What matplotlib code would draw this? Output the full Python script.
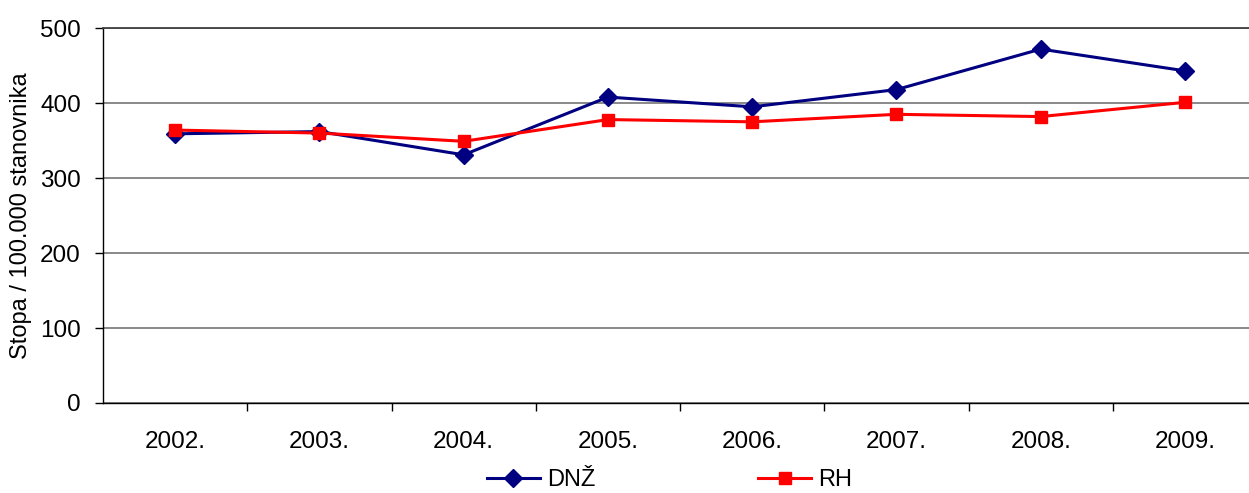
import matplotlib.pyplot as plt
import numpy as np

years = ["2002.", "2003.", "2004.", "2005.", "2006.", "2007.", "2008.", "2009."]
dnz = [359, 362, 331, 408, 395, 418, 472, 443]
rh = [364, 360, 349, 378, 375, 385, 382, 401]

plt.rcParams['font.family'] = ['Liberation Sans', 'DejaVu Sans']

fig = plt.figure(figsize=(12.49, 4.93), dpi=100)
# plot area runs a little past the right edge of the image, as in the original
ax = fig.add_axes([0.0825, 0.1826, 0.924, 0.7604])
ax.set_clip_on(False)

x = np.arange(len(years))
ax.plot(x, dnz, color='#000080', lw=2.2, marker='D', ms=9, label='DNŽ', zorder=3)
ax.plot(x, rh, color='#FF0000', lw=2.2, marker='s', ms=9, label='RH', zorder=4)

ax.set_xlim(-0.5, len(years) - 0.5)
ax.set_ylim(0, 500)
ax.set_yticks(range(0, 501, 100))
ax.yaxis.grid(True, color='#808080', lw=1.3)
ax.set_axisbelow(True)

# tick marks on the inner category boundaries, labels in between
ax.set_xticks(np.arange(0.5, len(years) - 1, 1.0))
ax.set_xticklabels([])
ax.set_xticks(x, minor=True)
ax.set_xticklabels(years, minor=True)
ax.tick_params(axis='x', which='major', direction='out', length=6, width=1)
ax.tick_params(axis='x', which='minor', length=0, pad=20, labelsize=17.5)
ax.tick_params(axis='y', direction='out', length=6, width=1, pad=10, labelsize=17.5)

ax.spines['right'].set_visible(False)
ax.spines['top'].set_color('#404040')
ax.spines['top'].set_linewidth(1.3)
for s in ('left', 'bottom'):
    ax.spines[s].set_color('black')
    ax.spines[s].set_linewidth(1.0)

ax.set_ylabel('Stopa / 100.000 stanovnika', fontsize=17, labelpad=6)

fig.legend(loc='center', bbox_to_anchor=(0.536, 0.026), ncol=2, frameon=False,
           fontsize=17, handlelength=2.25, handletextpad=0.3, columnspacing=6.9,
           borderpad=0)

fig.savefig('out.png', dpi=100)
